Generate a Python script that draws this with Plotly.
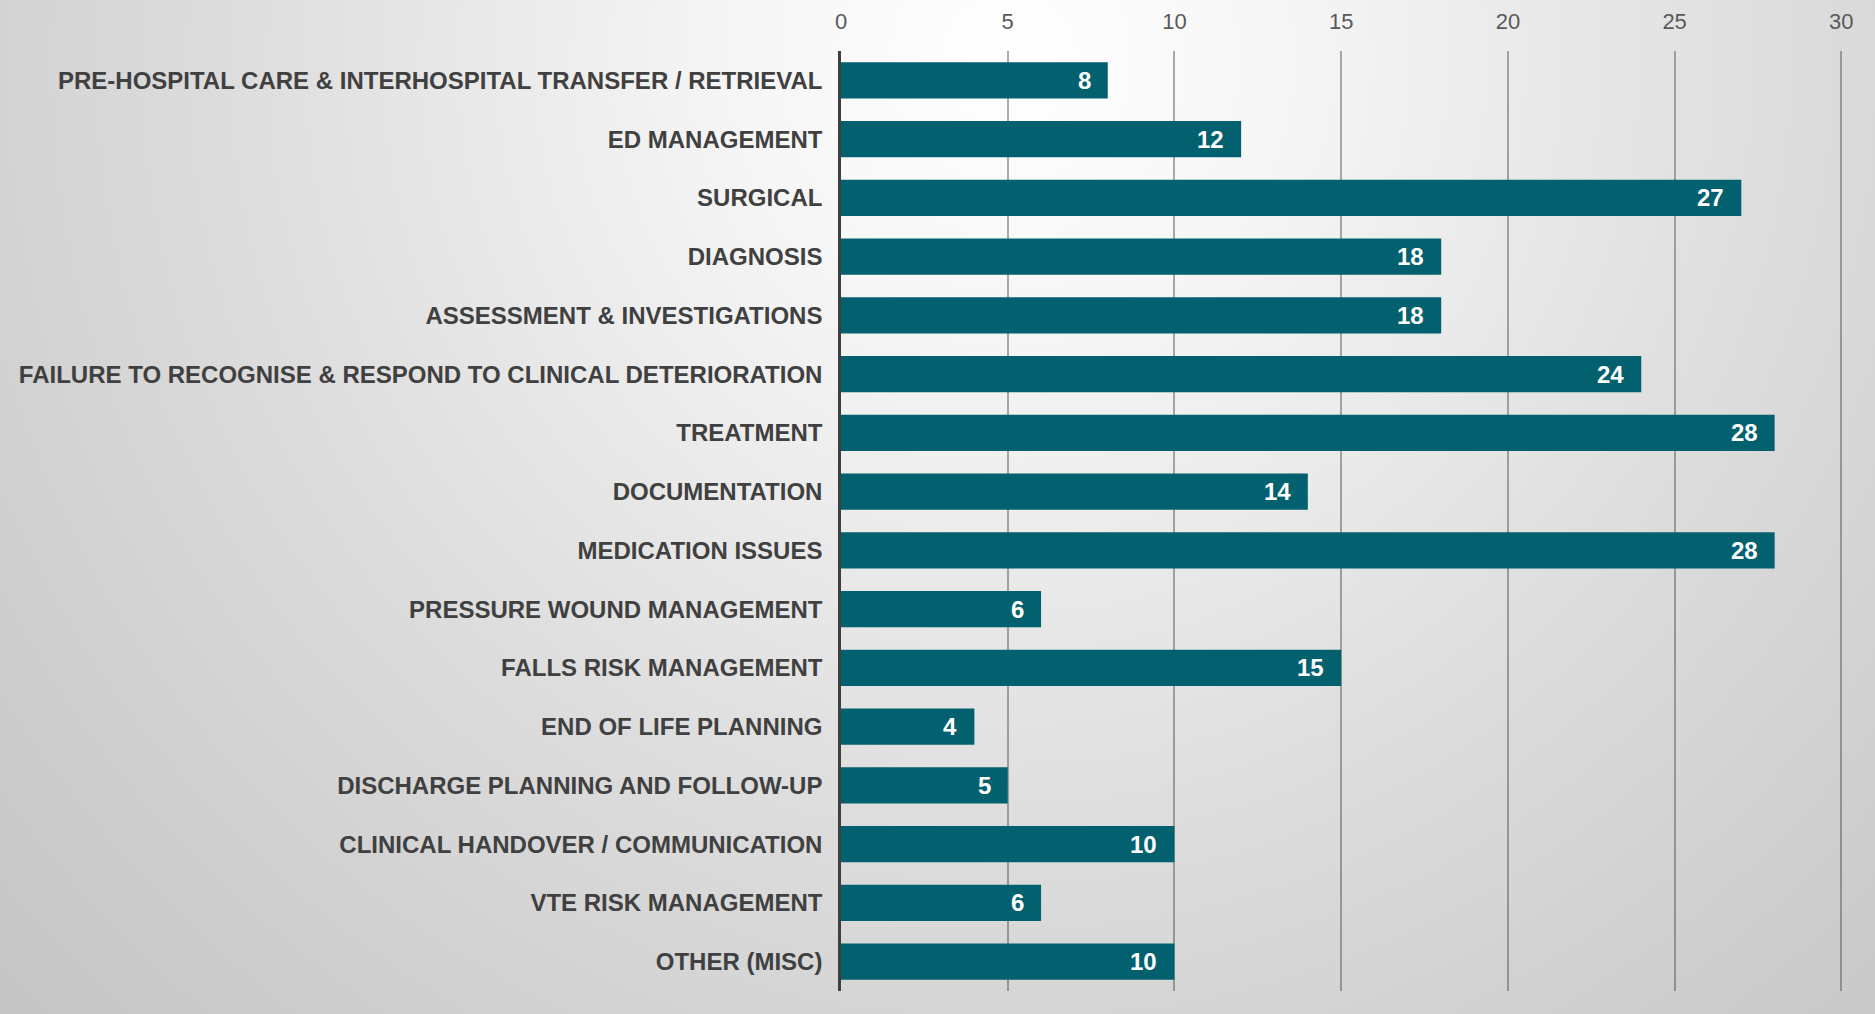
import base64
import plotly.graph_objects as go

# Incident categories (top to bottom) and counts
categories = [
    "PRE-HOSPITAL CARE & INTERHOSPITAL TRANSFER / RETRIEVAL",
    "ED MANAGEMENT",
    "SURGICAL",
    "DIAGNOSIS",
    "ASSESSMENT & INVESTIGATIONS",
    "FAILURE TO RECOGNISE & RESPOND TO CLINICAL DETERIORATION",
    "TREATMENT",
    "DOCUMENTATION",
    "MEDICATION ISSUES",
    "PRESSURE WOUND MANAGEMENT",
    "FALLS RISK MANAGEMENT",
    "END OF LIFE PLANNING",
    "DISCHARGE PLANNING AND FOLLOW-UP",
    "CLINICAL HANDOVER / COMMUNICATION",
    "VTE RISK MANAGEMENT",
    "OTHER (MISC)",
]
counts = [8, 12, 27, 18, 18, 24, 28, 14, 28, 6, 15, 4, 5, 10, 6, 10]
x_ticks = [0, 5, 10, 15, 20, 25, 30]

W, H = 1875, 1014
M_L, M_R, M_T, M_B = 841, 27, 51, 23
BAR = "#02606f"
FONT = "Liberation Sans, Arial, sans-serif"

# Soft radial grey background behind the whole figure
svg = f"""<svg xmlns='http://www.w3.org/2000/svg' width='{W}' height='{H}' viewBox='0 0 {W} {H}'>
<defs><radialGradient id='g' gradientUnits='userSpaceOnUse' cx='1010' cy='60' r='1450'>
<stop offset='0' stop-color='#ffffff'/>
<stop offset='0.2' stop-color='#f5f5f5'/>
<stop offset='0.55' stop-color='#dcdcdc'/>
<stop offset='0.8' stop-color='#cdcdcd'/>
<stop offset='1' stop-color='#c3c3c3'/>
</radialGradient></defs>
<rect width='{W}' height='{H}' fill='url(#g)'/></svg>"""
bg_src = "data:image/svg+xml;base64," + base64.b64encode(svg.encode()).decode()

pw = W - M_L - M_R
ph = H - M_T - M_B

fig = go.Figure(
    go.Bar(
        x=counts,
        y=categories,
        orientation="h",
        marker=dict(color=BAR, line=dict(width=0)),
        hoverinfo="x+y",
    )
)

# Value labels placed just inside the bar ends
for c, v in zip(categories, counts):
    fig.add_annotation(
        x=v, y=c, text=f"<b>{v}</b>", showarrow=False,
        xanchor="right", yanchor="middle", xshift=-15,
        font=dict(family=FONT, size=24, color="white"),
    )

fig.add_layout_image(
    source=bg_src, xref="paper", yref="paper",
    x=-M_L / pw, y=1 + M_T / ph, sizex=W / pw, sizey=H / ph,
    xanchor="left", yanchor="top", sizing="stretch", layer="below",
)

fig.update_layout(
    width=W, height=H,
    margin=dict(l=M_L, r=M_R, t=M_T, b=M_B, pad=0, autoexpand=False),
    paper_bgcolor="#d6d6d6",
    plot_bgcolor="rgba(0,0,0,0)",
    bargap=0.38,
    showlegend=False,
    xaxis=dict(
        side="top", range=[0, 30.2], tickvals=x_ticks, automargin=False,
        showgrid=True, gridcolor="rgba(70,70,70,0.45)", gridwidth=1.5,
        zeroline=False, showline=False,
        ticks="outside", ticklen=12, tickcolor="rgba(0,0,0,0)",
        tickfont=dict(family=FONT, size=22, color="#595959"),
        fixedrange=True,
    ),
    yaxis=dict(
        autorange="reversed", showgrid=False, zeroline=False, automargin=False,
        showline=True, linecolor="#3f3f3f", linewidth=2.5,
        ticks="outside", ticklen=11, tickcolor="rgba(0,0,0,0)",
        tickfont=dict(family=FONT, size=24, color="#404040", weight="bold"),
        fixedrange=True,
    ),
)

fig.write_html("out.html")
